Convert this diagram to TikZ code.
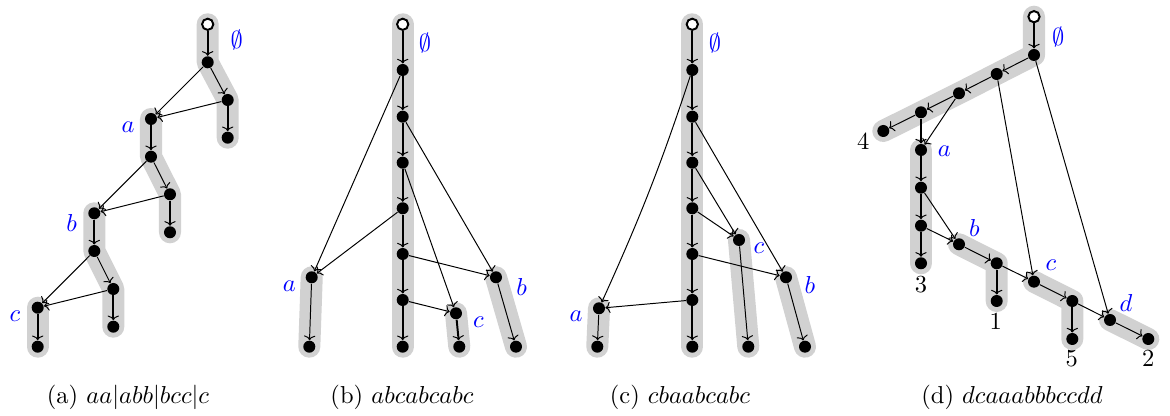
\documentclass[tikz,border=0pt]{standalone}
\usetikzlibrary{backgrounds,arrows.meta}
\begin{document}
\begin{tikzpicture}[x=0.01434cm,y=-0.01434cm,
  dot/.style={circle,fill=black,inner sep=0pt,minimum size=4.9pt},
  rootdot/.style={circle,draw=black,line width=0.8pt,fill=white,inner sep=0pt,minimum size=4.6pt},
  hl/.style={line width=9pt,draw=black!18,line cap=round,line join=round},
  tk/.style={-{To[line width=0.4pt,length=1.9pt,width=4.6pt]},line width=0.8pt},
  tn/.style={-{To[line width=0.4pt,length=1.9pt,width=4.6pt]},line width=0.4pt},
  lab/.style={text=blue,inner sep=0pt},
  num/.style={inner sep=0pt}]
\useasboundingbox (0,0) rectangle (1170,416);
% ---------- (a)
\node[rootdot] (A0) at (207.7,24.3) {};
\node[dot] (A1) at (207.7,62.3) {};
\node[dot] (A2) at (227.7,100) {};
\node[dot] (A3) at (227.7,137.7) {};
\node[dot] (Aa1) at (151,119) {};
\node[dot] (Aa2) at (151,156.7) {};
\node[dot] (Aa3) at (170,194.3) {};
\node[dot] (Aa4) at (170,232.3) {};
\node[dot] (Ab1) at (94.3,213.3) {};
\node[dot] (Ab2) at (94.3,251) {};
\node[dot] (Ab3) at (113.3,289) {};
\node[dot] (Ab4) at (113.3,326.7) {};
\node[dot] (Ac1) at (37.7,307.7) {};
\node[dot] (Ac2) at (37.7,346.7) {};
\begin{scope}[on background layer]
\draw[hl] (A0.center)--(A1.center)--(A2.center)--(A3.center);
\draw[hl] (Aa1.center)--(Aa2.center)--(Aa3.center)--(Aa4.center);
\draw[hl] (Ab1.center)--(Ab2.center)--(Ab3.center)--(Ab4.center);
\draw[hl] (Ac1.center)--(Ac2.center);
\end{scope}
\draw[tk] (A0)--(A1); \draw[tk] (A2)--(A3); \draw[tk] (Aa1)--(Aa2); \draw[tk] (Aa3)--(Aa4);
\draw[tk] (Ab1)--(Ab2); \draw[tk] (Ab3)--(Ab4); \draw[tk] (Ac1)--(Ac2);
\draw[tn] (A1)--(A2); \draw[tn] (A1)--(Aa1); \draw[tn] (A2)--(Aa1);
\draw[tn] (Aa2)--(Aa3); \draw[tn] (Aa2)--(Ab1); \draw[tn] (Aa3)--(Ab1);
\draw[tn] (Ab2)--(Ab3); \draw[tn] (Ab2)--(Ac1); \draw[tn] (Ab3)--(Ac1);
\node[lab] (LA0) at (236.7,40) {$\emptyset$};
\node[lab] (LAa) at (128,127) {$a$};
\node[lab] (LAb) at (71.7,223) {$b$};
\node[lab] (LAc) at (15,316.7) {$c$};
\node (capA) at (128,397) {(a) $aa|abb|bcc|c$};
% ---------- (b)
\node[rootdot] (B0) at (402.7,24.3) {};
\node[dot] (B1) at (402.7,70) {};
\node[dot] (B2) at (402.7,116.7) {};
\node[dot] (B3) at (402.7,162.7) {};
\node[dot] (B4) at (402.7,208.3) {};
\node[dot] (B5) at (402.7,254) {};
\node[dot] (B6) at (402.7,300) {};
\node[dot] (B7) at (402.7,346.7) {};
\node[dot] (Ba1) at (311.7,277.3) {};
\node[dot] (Ba2) at (309.3,346.7) {};
\node[dot] (Bc1) at (456,313.3) {};
\node[dot] (Bc2) at (459.3,346.7) {};
\node[dot] (Bb1) at (496,277.3) {};
\node[dot] (Bb2) at (516,346.7) {};
\begin{scope}[on background layer]
\draw[hl] (B0.center)--(B7.center);
\draw[hl] (Ba1.center)--(Ba2.center);
\draw[hl] (Bc1.center)--(Bc2.center);
\draw[hl] (Bb1.center)--(Bb2.center);
\end{scope}
\draw[tk] (B0)--(B1); \draw[tk] (B1)--(B2); \draw[tk] (B2)--(B3); \draw[tk] (B3)--(B4);
\draw[tk] (B4)--(B5); \draw[tk] (B5)--(B6); \draw[tk] (B6)--(B7); \draw[tk] (Bc1)--(Bc2);
\draw[tn] (B1)--(Ba1); \draw[tn] (B4)--(Ba1); \draw[tn] (B2)--(Bb1); \draw[tn] (B5)--(Bb1);
\draw[tn] (B3)--(Bc1); \draw[tn] (B6)--(Bc1); \draw[tn] (Ba1)--(Ba2); \draw[tn] (Bb1)--(Bb2);
\node[lab] (LB0) at (425,43.3) {$\emptyset$};
\node[lab] (LBa) at (289.3,286.7) {$a$};
\node[lab] (LBb) at (521.7,286.7) {$b$};
\node[lab] (LBc) at (478.3,322.7) {$c$};
\node (capB) at (402,397) {(b) $abcabcabc$};
% ---------- (c)
\node[rootdot] (C0) at (692.3,24.3) {};
\node[dot] (C1) at (692.3,70) {};
\node[dot] (C2) at (692.3,116.7) {};
\node[dot] (C3) at (692.3,162.7) {};
\node[dot] (C4) at (692.3,208.3) {};
\node[dot] (C5) at (692.3,254) {};
\node[dot] (C6) at (692.3,300) {};
\node[dot] (C7) at (692.3,346.7) {};
\node[dot] (Cc1) at (739,240) {};
\node[dot] (Cc2) at (748.3,346.7) {};
\node[dot] (Cb1) at (786,277.3) {};
\node[dot] (Cb2) at (805,346.7) {};
\node[dot] (Ca1) at (599,308.3) {};
\node[dot] (Ca2) at (597.3,346.7) {};
\begin{scope}[on background layer]
\draw[hl] (C0.center)--(C7.center);
\draw[hl] (Cc1.center)--(Cc2.center);
\draw[hl] (Cb1.center)--(Cb2.center);
\draw[hl] (Ca1.center)--(Ca2.center);
\end{scope}
\draw[tk] (C0)--(C1); \draw[tk] (C1)--(C2); \draw[tk] (C2)--(C3); \draw[tk] (C3)--(C4);
\draw[tk] (C4)--(C5); \draw[tk] (C5)--(C6); \draw[tk] (C6)--(C7);
\draw[tn] (C1) to[bend left=3] (Ca1); \draw[tn] (C2)--(Cb1); \draw[tn] (C3)--(Cc1);
\draw[tn] (C4)--(Cc1); \draw[tn] (C5)--(Cb1); \draw[tn] (C6)--(Ca1);
\draw[tn] (Ca1)--(Ca2); \draw[tn] (Cc1)--(Cc2); \draw[tn] (Cb1)--(Cb2);
\node[lab] (LC0) at (715,43.3) {$\emptyset$};
\node[lab] (LCc) at (759,248.3) {$c$};
\node[lab] (LCb) at (810,285) {$b$};
\node[lab] (LCa) at (576,316.7) {$a$};
\node (capC) at (680,397) {(c) $cbaabcabc$};
% ---------- (d)
\node[rootdot] (D0) at (1034,16.7) {};
\node[dot] (D1) at (1034,55) {};
\node[dot] (D2) at (996.7,74) {};
\node[dot] (D3) at (959,93.3) {};
\node[dot] (D4) at (921,112.3) {};
\node[dot] (D5) at (883.3,131) {};
\node[dot] (Da1) at (921,150) {};
\node[dot] (Da2) at (921,187.7) {};
\node[dot] (Da3) at (921,225.7) {};
\node[dot] (Da4) at (921,263.3) {};
\node[dot] (Db1) at (959,244.3) {};
\node[dot] (Db2) at (996.7,263.3) {};
\node[dot] (Db3) at (996.7,301) {};
\node[dot] (Dc1) at (1034,281.7) {};
\node[dot] (Dc2) at (1072.3,301) {};
\node[dot] (Dc3) at (1072.3,339) {};
\node[dot] (Dd1) at (1110,320) {};
\node[dot] (Dd2) at (1148.3,339) {};
\begin{scope}[on background layer]
\draw[hl] (D0.center)--(D1.center)--(D2.center)--(D3.center)--(D4.center)--(D5.center);
\draw[hl] (Da1.center)--(Da4.center);
\draw[hl] (Db1.center)--(Db2.center)--(Db3.center);
\draw[hl] (Dc1.center)--(Dc2.center)--(Dc3.center);
\draw[hl] (Dd1.center)--(Dd2.center);
\end{scope}
\draw[tk] (D0)--(D1); \draw[tk] (D4)--(Da1); \draw[tk] (Da1)--(Da2); \draw[tk] (Da2)--(Da3);
\draw[tk] (Da3)--(Da4); \draw[tk] (Db2)--(Db3); \draw[tk] (Dc2)--(Dc3);
\draw[tn] (D1)--(D2); \draw[tn] (D2)--(D3); \draw[tn] (D3)--(D4); \draw[tn] (D4)--(D5);
\draw[tn] (D3)--(Da1); \draw[tn] (D2)--(Dc1); \draw[tn] (D1)--(Dd1);
\draw[tn] (Da2)--(Db1); \draw[tn] (Da3)--(Db1); \draw[tn] (Db1)--(Db2); \draw[tn] (Db2)--(Dc1);
\draw[tn] (Dc1)--(Dc2); \draw[tn] (Dc2)--(Dd1); \draw[tn] (Dd1)--(Dd2);
\node[lab] (LD0) at (1058.3,36.7) {$\emptyset$};
\node[lab] (LDa) at (944.3,151) {$a$};
\node[lab] (LDb) at (974.3,227.7) {$b$};
\node[lab] (LDc) at (1051,265) {$c$};
\node[lab] (LDd) at (1126,302.7) {$d$};
\node[num] (N4) at (863.3,141.7) {4};
\node[num] (N3) at (921,285) {3};
\node[num] (N1) at (995.7,321.7) {1};
\node[num] (N5) at (1071.7,358.3) {5};
\node[num] (N2) at (1148.3,358.3) {2};
\node (capD) at (1012,397) {(d) $dcaaabbbccdd$};
\end{tikzpicture}
\end{document}
